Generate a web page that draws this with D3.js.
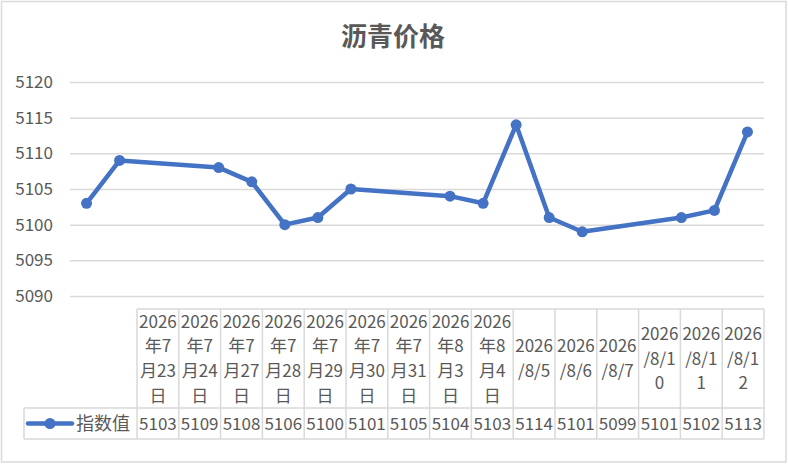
<!DOCTYPE html>
<html>
<head>
<meta charset="utf-8">
<script src="https://cdn.jsdelivr.net/npm/d3@7"></script>
<style>
  html, body { margin: 0; padding: 0; background: #fff; }
  svg { display: block; font-family: "Noto Sans CJK SC", "Noto Sans", sans-serif; }
</style>
</head>
<body>
<svg id="chart" width="788" height="464"></svg>
<script>
// ---- data ----
const title = "沥青价格";
const seriesName = "指数值";
const dates = ["2026-07-23","2026-07-24","2026-07-27","2026-07-28","2026-07-29","2026-07-30","2026-07-31",
               "2026-08-03","2026-08-04","2026-08-05","2026-08-06","2026-08-07","2026-08-10","2026-08-11","2026-08-12"];
const categoryLabels = ["2026年7月23日","2026年7月24日","2026年7月27日","2026年7月28日","2026年7月29日",
                        "2026年7月30日","2026年7月31日","2026年8月3日","2026年8月4日",
                        "2026/8/5","2026/8/6","2026/8/7","2026/8/10","2026/8/11","2026/8/12"];
const values = [5103, 5109, 5108, 5106, 5100, 5101, 5105, 5104, 5103, 5114, 5101, 5099, 5101, 5102, 5113];
const yTicks = [5090, 5095, 5100, 5105, 5110, 5115, 5120];

// ---- layout ----
const W = 788, H = 464;
const plot = { left: 70, right: 764, top: 82, bottom: 296 };
const table = { left: 137, right: 764, headTop: 309, headBottom: 408, rowBottom: 439, legendLeft: 24 };
const lineColor = "#4472C4";
const gridColor = "#d9d9d9";
const textColor = "#595959";

const svg = d3.select("#chart");
svg.append("rect").attr("x", 0).attr("y", 0).attr("width", W).attr("height", H).attr("fill", "#fff");
svg.append("rect").attr("x", 1.5).attr("y", 1.5).attr("width", W - 3.5).attr("height", H - 3.5)
   .attr("fill", "none").attr("stroke", gridColor).attr("stroke-width", 1.5);

// title
svg.append("text").attr("x", 393).attr("y", 46).attr("text-anchor", "middle")
   .attr("font-size", 26).attr("font-weight", "bold").attr("fill", textColor).text(title);

const parse = d3.utcParse("%Y-%m-%d");
const data = dates.map((d, i) => ({ date: parse(d), value: values[i], label: categoryLabels[i] }));

const halfDay = 12 * 3600 * 1000;
const x = d3.scaleUtc()
  .domain([new Date(+data[0].date - halfDay), new Date(+data[data.length - 1].date + halfDay)])
  .range([plot.left, plot.right]);
const y = d3.scaleLinear().domain([5090, 5120]).range([plot.bottom, plot.top]);

// gridlines + y axis
const yAxis = d3.axisLeft(y).tickValues(yTicks).tickSize(-(plot.right - plot.left)).tickPadding(17).tickFormat(d3.format("d"));
const gy = svg.append("g").attr("transform", `translate(${plot.left},0)`).call(yAxis);
gy.select(".domain").remove();
gy.selectAll(".tick line").attr("stroke", gridColor).attr("stroke-width", 1.5);
gy.selectAll(".tick text").attr("fill", textColor).attr("font-size", 17)
  .attr("font-family", "'Noto Sans CJK SC', sans-serif");

// line
const line = d3.line().x(d => x(d.date)).y(d => y(d.value));
svg.append("path").datum(data).attr("d", line).attr("fill", "none")
   .attr("stroke", lineColor).attr("stroke-width", 4.5).attr("stroke-linejoin", "round").attr("stroke-linecap", "round");
svg.append("g").selectAll("circle").data(data).join("circle")
   .attr("cx", d => x(d.date)).attr("cy", d => y(d.value)).attr("r", 5.5).attr("fill", lineColor);

// ---- data table ----
const band = d3.scaleBand().domain(data.map((d, i) => i)).range([table.left, table.right]).paddingInner(0).paddingOuter(0);
const tg = svg.append("g");
const bc = "#d9d9d9";
// horizontal lines
tg.append("line").attr("x1", table.left).attr("x2", table.right).attr("y1", table.headTop).attr("y2", table.headTop).attr("stroke", bc).attr("stroke-width", 1.5);
tg.append("line").attr("x1", table.legendLeft).attr("x2", table.right).attr("y1", table.headBottom).attr("y2", table.headBottom).attr("stroke", bc).attr("stroke-width", 1.5);
tg.append("line").attr("x1", table.legendLeft).attr("x2", table.right).attr("y1", table.rowBottom).attr("y2", table.rowBottom).attr("stroke", bc).attr("stroke-width", 1.5);
// vertical lines
const vx = data.map((d, i) => band(i)).concat([table.right]);
tg.selectAll("line.v").data(vx).join("line").attr("class", "v")
  .attr("x1", d => d).attr("x2", d => d).attr("y1", table.headTop).attr("y2", table.rowBottom)
  .attr("stroke", bc).attr("stroke-width", 1.5);
tg.append("line").attr("x1", table.legendLeft).attr("x2", table.legendLeft).attr("y1", table.headBottom).attr("y2", table.rowBottom).attr("stroke", bc).attr("stroke-width", 1.5);

// header labels with wrapping
const fs = 17;
const maxW = band.bandwidth() - 3;
const headMid = (table.headTop + table.headBottom) / 2;
const measurer = svg.append("text").attr("font-size", fs).attr("visibility", "hidden");
function measure(s) { measurer.text(s); return measurer.node().getComputedTextLength(); }
function wrap(s) {
  const out = []; let cur = "";
  for (const ch of s) {
    if (cur && measure(cur + ch) > maxW) { out.push(cur); cur = ch; }
    else cur += ch;
  }
  if (cur) out.push(cur);
  return out;
}
const lh = 24.6;
data.forEach((d, i) => {
  const lines = wrap(d.label);
  const cx = band(i) + band.bandwidth() / 2;
  const t = tg.append("text").attr("text-anchor", "middle").attr("font-size", fs).attr("fill", textColor);
  lines.forEach((ln, k) => {
    const cy = headMid + (k - (lines.length - 1) / 2) * lh;
    t.append("tspan").attr("x", cx).attr("y", cy).attr("dy", "0.36em").text(ln);
  });
  tg.append("text").attr("x", cx).attr("y", (table.headBottom + table.rowBottom) / 2).attr("dy", "0.36em")
    .attr("text-anchor", "middle").attr("font-size", fs).attr("fill", textColor).text(d.value);
});
measurer.remove();

// legend key in table
const ly = (table.headBottom + table.rowBottom) / 2;
tg.append("line").attr("x1", 28).attr("x2", 72).attr("y1", ly).attr("y2", ly).attr("stroke", lineColor).attr("stroke-width", 4.5).attr("stroke-linecap", "round");
tg.append("circle").attr("cx", 50).attr("cy", ly).attr("r", 5.5).attr("fill", lineColor);
tg.append("text").attr("x", 76).attr("y", ly).attr("dy", "0.36em").attr("font-size", 18).attr("fill", textColor).text(seriesName);
</script>
</body>
</html>
